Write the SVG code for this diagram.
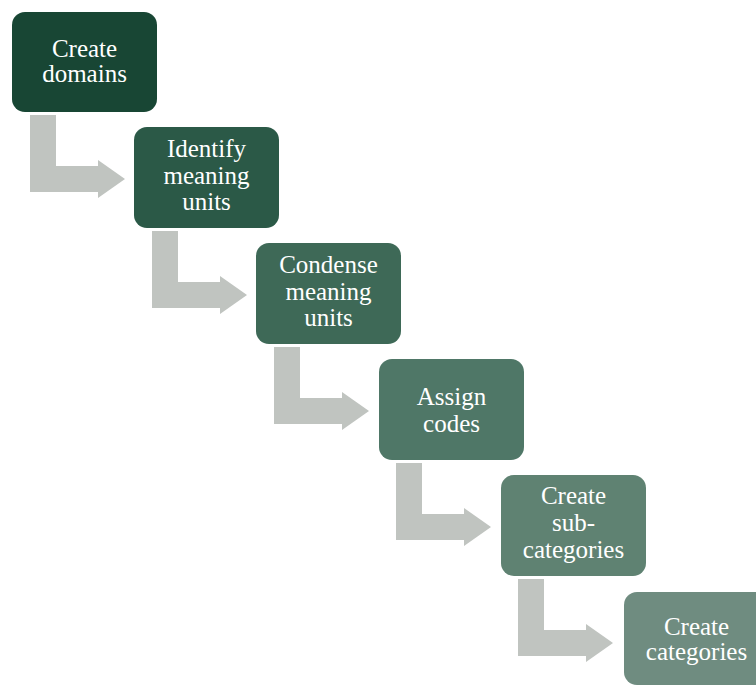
<svg xmlns="http://www.w3.org/2000/svg" width="756" height="686" viewBox="0 0 756 686">
  <style>
    .lbl { font-family: 'Liberation Serif', 'Times New Roman', Times, serif; font-size: 25px; fill: #ffffff; text-anchor: middle; }
    .arrow { fill: #c0c4c0; }
  </style>
  <defs>
    <!-- bent arrow: drops down from a step, then turns right into the next one -->
    <path id="bent" d="M30,115 H56 V166 H98 V160 L125,179 L98,198 V192 H30 Z"/>
  </defs>
  <rect width="756" height="686" fill="#ffffff"/>

  <g id="connectors" class="arrow">
    <use href="#bent"/>
    <use href="#bent" transform="translate(122,116)"/>
    <use href="#bent" transform="translate(244,232)"/>
    <use href="#bent" transform="translate(366,348)"/>
    <use href="#bent" transform="translate(488,464)"/>
  </g>

  <g font-family="Liberation Serif, serif">
    <g id="step1">
      <rect x="12" y="12" width="145" height="100" rx="13" fill="#184634"/>
      <text class="lbl" x="84.5" y="57">Create</text>
      <text class="lbl" x="84.5" y="82">domains</text>
    </g>
    <g id="step2">
      <rect x="134" y="127" width="145" height="101" rx="13" fill="#2b5947"/>
      <text class="lbl" x="206.5" y="157">Identify</text>
      <text class="lbl" x="206.5" y="183.5">meaning</text>
      <text class="lbl" x="206.5" y="210">units</text>
    </g>
    <g id="step3">
      <rect x="256" y="243" width="145" height="101" rx="13" fill="#3e6957"/>
      <text class="lbl" x="328.5" y="273">Condense</text>
      <text class="lbl" x="328.5" y="299.5">meaning</text>
      <text class="lbl" x="328.5" y="326">units</text>
    </g>
    <g id="step4">
      <rect x="379" y="359" width="145" height="101" rx="13" fill="#4f7767"/>
      <text class="lbl" x="451.5" y="405">Assign</text>
      <text class="lbl" x="451.5" y="432">codes</text>
    </g>
    <g id="step5">
      <rect x="501" y="475" width="145" height="101" rx="13" fill="#5f8272"/>
      <text class="lbl" x="573.5" y="504">Create</text>
      <text class="lbl" x="573.5" y="531">sub-</text>
      <text class="lbl" x="573.5" y="558">categories</text>
    </g>
    <g id="step6">
      <rect x="624" y="592" width="145" height="93" rx="13" fill="#6f8c80"/>
      <text class="lbl" x="696.5" y="635">Create</text>
      <text class="lbl" x="696.5" y="660">categories</text>
    </g>
  </g>
</svg>
